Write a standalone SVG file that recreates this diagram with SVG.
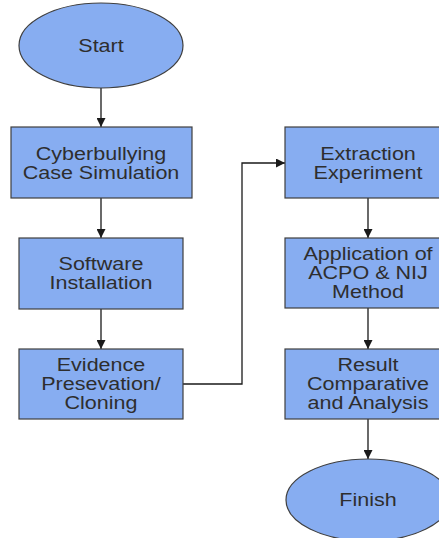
<svg xmlns="http://www.w3.org/2000/svg" width="439" height="538" viewBox="0 0 439 538">
  <style>
    .shape { fill: #87adf1; stroke: #3f3f3f; stroke-width: 1.2; }
    .label { font-family: "Liberation Sans", Arial, sans-serif; font-size: 17.5px; fill: #2e2e2e; text-anchor: middle; }
    .conn { fill: none; stroke: #1a1a1a; stroke-width: 1.3; }
  </style>
  <defs>
    <marker id="arrow" viewBox="0 0 10 10" refX="10" refY="5" markerWidth="9" markerHeight="9" markerUnits="userSpaceOnUse" orient="auto">
      <path d="M0,0 L10,5 L0,10 z" fill="#1a1a1a"/>
    </marker>
  </defs>
  <rect width="439" height="538" fill="#ffffff"/>

  <g id="connectors">
    <line class="conn" x1="101" y1="88" x2="101" y2="127" marker-end="url(#arrow)"/>
    <line class="conn" x1="101" y1="198" x2="101" y2="238" marker-end="url(#arrow)"/>
    <line class="conn" x1="101" y1="309" x2="101" y2="349" marker-end="url(#arrow)"/>
    <polyline class="conn" points="183,384 242,384 242,163 285,163" marker-end="url(#arrow)"/>
    <line class="conn" x1="368" y1="198" x2="368" y2="238" marker-end="url(#arrow)"/>
    <line class="conn" x1="368" y1="308" x2="368" y2="349" marker-end="url(#arrow)"/>
    <line class="conn" x1="368" y1="419" x2="368" y2="459" marker-end="url(#arrow)"/>
  </g>

  <g id="start">
    <ellipse class="shape" cx="101" cy="45.5" rx="82" ry="42.5"/>
    <text class="label" transform="translate(101 51.5) scale(1.23 1)">Start</text>
  </g>

  <g id="case-simulation">
    <rect class="shape" x="11" y="127" width="181" height="71"/>
    <text class="label" transform="translate(101 159.5) scale(1.23 1)">Cyberbullying</text>
    <text class="label" transform="translate(101 179) scale(1.23 1)">Case Simulation</text>
  </g>

  <g id="software-installation">
    <rect class="shape" x="19" y="238" width="164" height="71"/>
    <text class="label" transform="translate(101 269.5) scale(1.23 1)">Software</text>
    <text class="label" transform="translate(101 289) scale(1.23 1)">Installation</text>
  </g>

  <g id="evidence-preservation">
    <rect class="shape" x="19" y="349" width="164" height="70"/>
    <text class="label" transform="translate(101 371) scale(1.23 1)">Evidence</text>
    <text class="label" transform="translate(101 390) scale(1.23 1)">Presevation/</text>
    <text class="label" transform="translate(101 409) scale(1.23 1)">Cloning</text>
  </g>

  <g id="extraction-experiment">
    <rect class="shape" x="285" y="127" width="166" height="71"/>
    <text class="label" transform="translate(368 159.5) scale(1.23 1)">Extraction</text>
    <text class="label" transform="translate(368 178.5) scale(1.23 1)">Experiment</text>
  </g>

  <g id="acpo-nij-method">
    <rect class="shape" x="285" y="238" width="166" height="70"/>
    <text class="label" transform="translate(368 260) scale(1.23 1)">Application of</text>
    <text class="label" transform="translate(368 279) scale(1.23 1)">ACPO &amp; NIJ</text>
    <text class="label" transform="translate(368 298) scale(1.23 1)">Method</text>
  </g>

  <g id="result-analysis">
    <rect class="shape" x="285" y="349" width="166" height="70"/>
    <text class="label" transform="translate(368 371) scale(1.23 1)">Result</text>
    <text class="label" transform="translate(368 390) scale(1.23 1)">Comparative</text>
    <text class="label" transform="translate(368 409) scale(1.23 1)">and Analysis</text>
  </g>

  <g id="finish">
    <ellipse class="shape" cx="368" cy="500" rx="82" ry="41"/>
    <text class="label" transform="translate(368 505.5) scale(1.23 1)">Finish</text>
  </g>
</svg>
